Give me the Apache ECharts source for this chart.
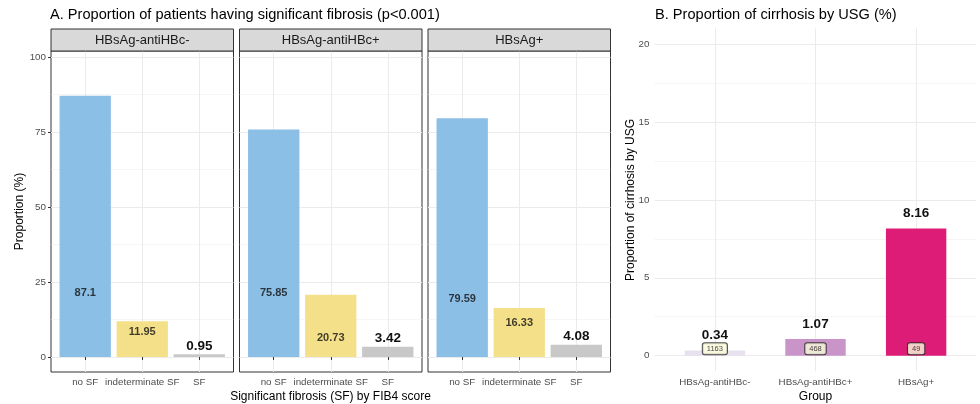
<!DOCTYPE html>
<html>
<head>
<meta charset="utf-8">
<script src="https://cdn.jsdelivr.net/npm/echarts@6/dist/echarts.min.js"></script>
<style>
html, body { margin: 0; padding: 0; background: #fff; }
#chart { width: 980px; height: 404px; }
</style>
</head>
<body>
<div id="chart"></div>
<script>
// ---- data ----
const groups = ['HBsAg-antiHBc-', 'HBsAg-antiHBc+', 'HBsAg+'];
const fibrosisCats = ['no SF', 'indeterminate SF', 'SF'];
// percentage of patients per FIB4 class, one array per serology group
const pctAntiHBcNeg = [87.1, 11.95, 0.95];
const pctAntiHBcPos = [75.85, 20.73, 3.42];
const pctHBsAgPos = [79.59, 16.33, 4.08];
// heights (in %) where the in-bar value notes sit
const noteHeightAntiHBcNeg = [21.4, 8.5];
const noteHeightAntiHBcPos = [21.3, 6.3];
const noteHeightHBsAgPos = [19.3, 11.5];
const yTicksA = [0, 25, 50, 75, 100];

// cirrhosis by USG
const cirrhosisPct = [0.34, 1.07, 8.16];
const groupCounts = [1163, 468, 49];
const yTicksB = [0, 5, 10, 15, 20];

// ---- drawing ----
const FONT = '"Liberation Sans", Arial, Helvetica, sans-serif';
const fibFill = ['#8cbfe6', '#f5e08a', '#c8c8c8'];
const cirrFill = ['#e7e1ef', '#c994c7', '#dd1c77'];
const gridColor = '#ebebeb';

const pctByGroup = [pctAntiHBcNeg, pctAntiHBcPos, pctHBsAgPos];
const noteByGroup = [noteHeightAntiHBcNeg, noteHeightAntiHBcPos, noteHeightHBsAgPos];

const panelLeft = [51, 239.5, 428];
const panelW = 182.5, panelTop = 51, panelH = 321;
const stripH = 22;

const grids = [], xAxes = [], yAxes = [], series = [], graphics = [];

// background grid lines as mark lines of an empty helper series, kept below the bars
function gridLines(xIdx, yIdx, major, minor, xs) {
  const d = [];
  minor.forEach(v => d.push({ yAxis: v, lineStyle: { color: gridColor, width: 0.5, type: 'solid' } }));
  major.forEach(v => d.push({ yAxis: v, lineStyle: { color: gridColor, width: 1, type: 'solid' } }));
  xs.forEach(v => d.push({ xAxis: v, lineStyle: { color: gridColor, width: 1, type: 'solid' } }));
  return {
    type: 'line', xAxisIndex: xIdx, yAxisIndex: yIdx, data: [], silent: true, z: 0,
    markLine: { silent: true, z: 0, symbol: ['none', 'none'], label: { show: false }, animation: false, data: d }
  };
}

const tickLabel = { fontSize: 9.8, color: '#4d4d4d', fontFamily: FONT };

groups.forEach((g, i) => {
  grids.push({
    left: panelLeft[i], top: panelTop, width: panelW, height: panelH,
    show: true, borderColor: '#333', borderWidth: 1, backgroundColor: 'transparent'
  });
  xAxes.push({
    gridIndex: i, type: 'value', min: 0.4, max: 3.6,
    axisLine: { show: false }, splitLine: { show: false },
    axisTick: { show: true, customValues: [1, 2, 3], length: 3, lineStyle: { color: '#333' } },
    axisLabel: Object.assign({ customValues: [1, 2, 3], margin: 5,
      formatter: v => fibrosisCats[Math.round(v) - 1] }, tickLabel)
  });
  yAxes.push({
    gridIndex: i, type: 'value', min: -5, max: 102,
    axisLine: { show: false }, splitLine: { show: false },
    axisTick: { show: i === 0, customValues: yTicksA, length: 3, lineStyle: { color: '#333' } },
    axisLabel: Object.assign({ show: i === 0, customValues: yTicksA, margin: 5 }, tickLabel)
  });
  series.push(gridLines(i, i, yTicksA, [12.5, 37.5, 62.5, 87.5], [1, 2, 3]));
  const vals = pctByGroup[i];
  series.push({
    type: 'bar', xAxisIndex: i, yAxisIndex: i, z: 3,
    barWidth: 0.9 * panelW / 3.2,
    data: vals.map((v, k) => ({
      value: [k + 1, v],
      itemStyle: { color: fibFill[k] },
      label: k === 2 ? {
        show: true, position: 'top', distance: 1, formatter: String(v),
        fontSize: 13.5, fontWeight: 'bold', color: '#111', fontFamily: FONT
      } : { show: false }
    }))
  });
  series.push({
    type: 'scatter', xAxisIndex: i, yAxisIndex: i, z: 4, symbolSize: 0, silent: true,
    data: noteByGroup[i].map((h, k) => ({ value: [k + 1, h], name: String(vals[k]) })),
    label: {
      show: true, position: 'inside', formatter: p => p.name,
      fontSize: 11, fontWeight: 'bold', color: '#111', fontFamily: FONT
    }
  });
  graphics.push({
    type: 'rect', shape: { x: panelLeft[i], y: panelTop - stripH, width: panelW, height: stripH },
    style: { fill: '#d9d9d9', stroke: '#333', lineWidth: 1 }, z: 10
  });
  graphics.push({
    type: 'text', x: panelLeft[i] + panelW / 2, y: panelTop - stripH / 2, z: 11,
    style: { text: g, fontSize: 13, fontFamily: FONT, fill: '#1a1a1a', textAlign: 'center', textVerticalAlign: 'middle' }
  });
});

// panel B
const bLeft = 654.5, bTop = 28.4, bW = 322, bH = 342.9;
grids.push({ left: bLeft, top: bTop, width: bW, height: bH, show: false });
xAxes.push({
  gridIndex: 3, type: 'value', min: 0.4, max: 3.6,
  axisLine: { show: false }, splitLine: { show: false }, axisTick: { show: false },
  axisLabel: Object.assign({ customValues: [1, 2, 3], margin: 6,
    formatter: v => groups[Math.round(v) - 1] }, tickLabel)
});
yAxes.push({
  gridIndex: 3, type: 'value', min: -1, max: 21,
  axisLine: { show: false }, splitLine: { show: false }, axisTick: { show: false },
  axisLabel: Object.assign({ customValues: yTicksB, margin: 5 }, tickLabel)
});
series.push(gridLines(3, 3, yTicksB, [2.5, 7.5, 12.5, 17.5], [1, 2, 3]));
series.push({
  type: 'bar', xAxisIndex: 3, yAxisIndex: 3, z: 3,
  barWidth: 0.6 * bW / 3.2,
  data: cirrhosisPct.map((v, k) => ({ value: [k + 1, v], itemStyle: { color: cirrFill[k] } })),
  label: {
    show: true, position: 'top', distance: 8, formatter: p => String(p.value[1]),
    fontSize: 13.5, fontWeight: 'bold', color: '#111', fontFamily: FONT
  }
});
series.push({
  type: 'scatter', xAxisIndex: 3, yAxisIndex: 3, z: 4, symbolSize: 0, silent: true,
  data: groupCounts.map((n, k) => ({ value: [k + 1, 0.45], name: String(n) })),
  label: {
    show: true, position: 'inside', formatter: p => p.name,
    fontSize: 7.5, color: '#111', fontFamily: FONT,
    backgroundColor: '#fdfddc', borderColor: '#222', borderWidth: 1, borderRadius: 2,
    padding: [2, 4, 1, 4]
  }
});

// titles and axis titles
const txt = (text, x, y, size) => ({
  type: 'text', x: x, y: y, z: 12,
  style: { text: text, fontSize: size, fontFamily: FONT, fill: '#000', textAlign: 'left', textVerticalAlign: 'middle' }
});
graphics.push(txt('A. Proportion of patients having significant fibrosis (p<0.001)', 50, 15, 14.6));
graphics.push(txt('B. Proportion of cirrhosis by USG (%)', 655, 15, 14.6));
const axisTitle = (text, x, y, rot) => ({
  type: 'text', x: x, y: y, rotation: rot || 0, z: 12,
  style: { text: text, fontSize: 12, fontFamily: FONT, fill: '#000', textAlign: 'center', textVerticalAlign: 'middle' }
});
graphics.push(axisTitle('Significant fibrosis (SF) by FIB4 score', 330.5, 396.5));
graphics.push(axisTitle('Proportion (%)', 20, 211.5, Math.PI / 2));
graphics.push(axisTitle('Group', 815.5, 396.5));
graphics.push(axisTitle('Proportion of cirrhosis by USG', 630.5, 200, Math.PI / 2));

const chart = echarts.init(document.getElementById('chart'), null, { renderer: 'canvas' });
chart.setOption({
  animation: false,
  backgroundColor: '#fff',
  grid: grids, xAxis: xAxes, yAxis: yAxes, series: series, graphic: graphics
});
</script>
</body>
</html>
